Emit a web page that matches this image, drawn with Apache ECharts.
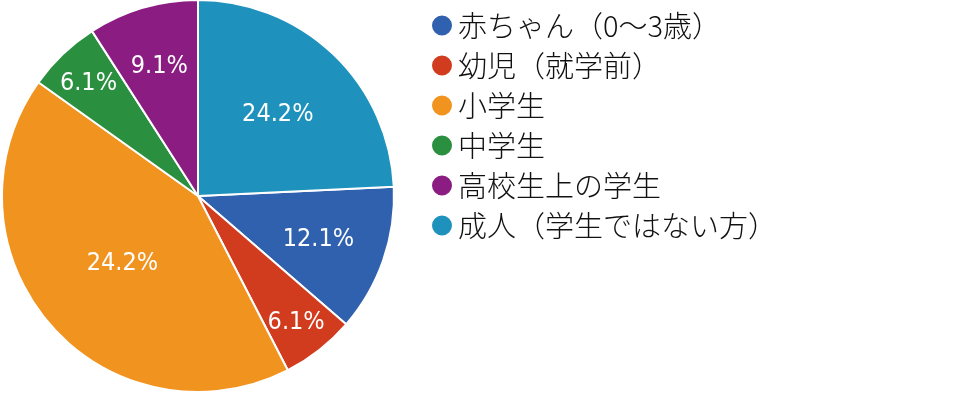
<!DOCTYPE html>
<html><head><meta charset="utf-8">
<script src="https://cdn.jsdelivr.net/npm/echarts@6/dist/echarts.min.js"></script>
<style>html,body{margin:0;padding:0;background:#fff}#c{width:968px;height:395px}</style>
</head><body><div id="c"></div>
<script>
const categories = ["赤ちゃん（0〜3歳）","幼児（就学前）","小学生","中学生","高校生上の学生","成人（学生ではない方）"];
const counts = [4, 2, 14, 2, 3, 8];
const sliceLabels = ["12.1%","6.1%","24.2%","6.1%","9.1%","24.2%"];
const colors = ["#3061ae","#d13b1e","#f0941f","#2a8f3f","#8a1c82","#1f91bd"];
const labelRadiusFrac = [0.65, 0.81, 0.51, 0.81, 0.70, 0.59];

const CX = 198, CY = 196, R = 196;
const total = counts.reduce((a,b)=>a+b,0);
const startAngle = 90 - 360 * counts[counts.length-1] / total;

const chart = echarts.init(document.getElementById('c'), null, {renderer:'canvas'});
chart.setOption({
  animation:false,
  color: colors,
  legend:{
    orient:'vertical', left:430, top:11, padding:0,
    icon:'circle', itemWidth:22, itemHeight:22, itemGap:11,
    selectedMode:false,
    textStyle:{fontFamily:'"Noto Sans CJK JP"', fontWeight:300, fontSize:29, lineHeight:29, color:'#111'}
  },
  series:[{
    type:'pie',
    center:[CX, CY], radius:R,
    startAngle: startAngle, clockwise:true,
    avoidLabelOverlap:false,
    itemStyle:{borderColor:'#fff', borderWidth:2},
    label:{
      show:true, position:'inside', color:'#fff',
      fontFamily:'"Liberation Sans Narrow","DejaVu Sans Condensed",sans-serif',
      fontSize:25,
      formatter:(p)=>sliceLabels[p.dataIndex]
    },
    labelLine:{show:false},
    labelLayout:(p)=>{
      const r = p.labelRect;
      const lx = r.x + r.width/2, ly = r.y + r.height/2;
      const vx = lx - CX, vy = ly - CY;
      const d = Math.sqrt(vx*vx+vy*vy) || 1;
      const k = labelRadiusFrac[p.dataIndex]*R/d - 1;
      return {dx: vx*k, dy: vy*k + 2};
    },
    emphasis:{disabled:true},
    data: categories.map((n,i)=>({name:n, value:counts[i]}))
  }]
});
</script></body></html>
